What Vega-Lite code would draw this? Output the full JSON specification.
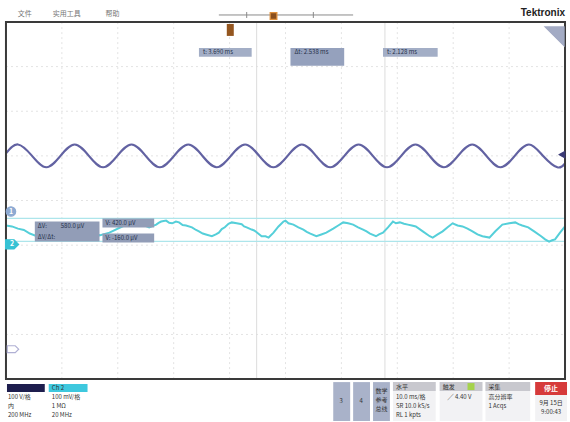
{
"$schema": "https://vega.github.io/schema/vega-lite/v6.json",
"width": 570, "height": 422,
"autosize": {"type": "fit", "contains": "padding"},
"padding": 0,
"background": "#ffffff",
"config": {"view": {"stroke": null}, "text": {"font": "Noto Sans CJK SC"}},
"resolve": {"scale": {"fill": "independent", "stroke": "independent", "shape": "independent", "size": "independent", "color": "independent"}},
"datasets": {
"rules": [
{"x":1,"x2":1,"y":-4,"y2":4,"k":"grid"},{"x":2,"x2":2,"y":-4,"y2":4,"k":"grid"},{"x":3,"x2":3,"y":-4,"y2":4,"k":"grid"},{"x":4,"x2":4,"y":-4,"y2":4,"k":"grid"},{"x":5,"x2":5,"y":-4,"y2":4,"k":"grid"},{"x":6,"x2":6,"y":-4,"y2":4,"k":"grid"},{"x":7,"x2":7,"y":-4,"y2":4,"k":"grid"},{"x":8,"x2":8,"y":-4,"y2":4,"k":"grid"},{"x":9,"x2":9,"y":-4,"y2":4,"k":"grid"},
{"x":0,"x2":10,"y":-3,"y2":-3,"k":"grid"},{"x":0,"x2":10,"y":-2,"y2":-2,"k":"grid"},{"x":0,"x2":10,"y":-1,"y2":-1,"k":"grid"},{"x":0,"x2":10,"y":0,"y2":0,"k":"grid"},{"x":0,"x2":10,"y":1,"y2":1,"k":"grid"},{"x":0,"x2":10,"y":2,"y2":2,"k":"grid"},{"x":0,"x2":10,"y":3,"y2":3,"k":"grid"},
{"x":4.484,"x2":4.484,"y":-4,"y2":4,"k":"cur"},{"x":6.779,"x2":6.779,"y":-4,"y2":4,"k":"cur"},
{"x":0,"x2":10,"y":-0.402,"y2":-0.402,"k":"cyan"},{"x":0,"x2":10,"y":-0.916,"y2":-0.916,"k":"cyan"},
{"x":3.808,"x2":6.21,"y":4.156,"y2":4.156,"k":"tl"},{"x":4.306,"x2":4.306,"y":4.089,"y2":4.223,"k":"tl"},{"x":5.498,"x2":5.498,"y":4.089,"y2":4.223,"k":"tl"}
],
"ch1": [
{"x":0,"y":1.06},{"x":0.214,"y":1.255},{"x":0.467,"y":1.0},{"x":0.721,"y":0.745},{"x":0.975,"y":1.0},{"x":1.229,"y":1.255},{"x":1.483,"y":1.0},{"x":1.737,"y":0.745},{"x":1.991,"y":1.0},{"x":2.245,"y":1.255},{"x":2.499,"y":1.0},{"x":2.753,"y":0.745},{"x":3.007,"y":1.0},{"x":3.261,"y":1.255},{"x":3.515,"y":1.0},{"x":3.768,"y":0.745},{"x":4.023,"y":1.0},{"x":4.277,"y":1.255},{"x":4.53,"y":1.0},{"x":4.784,"y":0.745},{"x":5.038,"y":1.0},{"x":5.292,"y":1.255},{"x":5.546,"y":1.0},{"x":5.8,"y":0.745},{"x":6.054,"y":1.0},{"x":6.308,"y":1.255},{"x":6.562,"y":1.0},{"x":6.816,"y":0.745},{"x":7.07,"y":1.0},{"x":7.324,"y":1.255},{"x":7.578,"y":1.0},{"x":7.831,"y":0.745},{"x":8.086,"y":1.0},{"x":8.34,"y":1.255},{"x":8.593,"y":1.0},{"x":8.847,"y":0.745},{"x":9.101,"y":1.0},{"x":9.355,"y":1.255},{"x":9.609,"y":1.0},{"x":9.863,"y":0.745},{"x":10.0,"y":0.83}
],
"ch2": [
{"x":0,"y":-0.56},{"x":0.107,"y":-0.58},{"x":0.214,"y":-0.63},{"x":0.32,"y":-0.66},{"x":0.427,"y":-0.74},{"x":0.516,"y":-0.78},{"x":0.694,"y":-0.72},{"x":0.961,"y":-0.56},{"x":1.228,"y":-0.51},{"x":1.495,"y":-0.63},{"x":1.673,"y":-0.78},{"x":1.851,"y":-0.72},{"x":2.117,"y":-0.56},{"x":2.384,"y":-0.51},{"x":2.562,"y":-0.6},{"x":2.687,"y":-0.54},{"x":2.73,"y":-0.5},{"x":2.776,"y":-0.47},{"x":2.865,"y":-0.45},{"x":2.92,"y":-0.5},{"x":2.972,"y":-0.51},{"x":3.04,"y":-0.47},{"x":3.096,"y":-0.49},{"x":3.16,"y":-0.55},{"x":3.221,"y":-0.56},{"x":3.327,"y":-0.6},{"x":3.4,"y":-0.66},{"x":3.452,"y":-0.69},{"x":3.52,"y":-0.74},{"x":3.577,"y":-0.76},{"x":3.683,"y":-0.8},{"x":3.754,"y":-0.76},{"x":3.808,"y":-0.72},{"x":3.86,"y":-0.64},{"x":3.915,"y":-0.6},{"x":3.98,"y":-0.52},{"x":4.039,"y":-0.49},{"x":4.128,"y":-0.51},{"x":4.217,"y":-0.53},{"x":4.26,"y":-0.58},{"x":4.306,"y":-0.6},{"x":4.395,"y":-0.65},{"x":4.44,"y":-0.67},{"x":4.484,"y":-0.71},{"x":4.573,"y":-0.8},{"x":4.644,"y":-0.8},{"x":4.698,"y":-0.83},{"x":4.786,"y":-0.72},{"x":4.875,"y":-0.58},{"x":4.964,"y":-0.47},{"x":5.0,"y":-0.45},{"x":5.053,"y":-0.51},{"x":5.142,"y":-0.54},{"x":5.231,"y":-0.6},{"x":5.32,"y":-0.65},{"x":5.38,"y":-0.7},{"x":5.445,"y":-0.74},{"x":5.552,"y":-0.8},{"x":5.641,"y":-0.76},{"x":5.73,"y":-0.72},{"x":5.854,"y":-0.63},{"x":5.943,"y":-0.56},{"x":6.032,"y":-0.49},{"x":6.121,"y":-0.51},{"x":6.21,"y":-0.54},{"x":6.299,"y":-0.6},{"x":6.388,"y":-0.65},{"x":6.45,"y":-0.69},{"x":6.512,"y":-0.74},{"x":6.619,"y":-0.8},{"x":6.673,"y":-0.76},{"x":6.744,"y":-0.72},{"x":6.833,"y":-0.6},{"x":6.922,"y":-0.47},{"x":6.975,"y":-0.51},{"x":7.046,"y":-0.49},{"x":7.12,"y":-0.52},{"x":7.189,"y":-0.54},{"x":7.26,"y":-0.56},{"x":7.331,"y":-0.58},{"x":7.456,"y":-0.69},{"x":7.58,"y":-0.8},{"x":7.634,"y":-0.83},{"x":7.722,"y":-0.76},{"x":7.811,"y":-0.69},{"x":7.9,"y":-0.6},{"x":7.989,"y":-0.51},{"x":8.078,"y":-0.56},{"x":8.167,"y":-0.58},{"x":8.256,"y":-0.63},{"x":8.345,"y":-0.69},{"x":8.434,"y":-0.76},{"x":8.523,"y":-0.8},{"x":8.648,"y":-0.83},{"x":8.754,"y":-0.69},{"x":8.879,"y":-0.54},{"x":9.004,"y":-0.51},{"x":9.11,"y":-0.49},{"x":9.17,"y":-0.53},{"x":9.235,"y":-0.56},{"x":9.342,"y":-0.6},{"x":9.448,"y":-0.69},{"x":9.573,"y":-0.8},{"x":9.644,"y":-0.87},{"x":9.715,"y":-0.92},{"x":9.769,"y":-0.89},{"x":9.822,"y":-0.87},{"x":9.911,"y":-0.72},{"x":10.0,"y":-0.58}
],
"rects": [
{"x":3.452,"x2":4.395,"y":3.419,"y2":3.218,"kind":"cur"},
{"x":5.089,"x2":6.05,"y":3.419,"y2":3.017,"kind":"cur2"},
{"x":6.744,"x2":7.722,"y":3.419,"y2":3.218,"kind":"cur"},
{"x":0.516,"x2":1.673,"y":-0.469,"y2":-0.916,"kind":"read"},
{"x":1.726,"x2":2.651,"y":-0.402,"y2":-0.603,"kind":"read"},
{"x":1.726,"x2":2.651,"y":-0.737,"y2":-0.939,"kind":"read"},
{"x":3.95,"x2":4.075,"y":3.955,"y2":3.687,"kind":"trig"},
{"x":0.018,"x2":0.694,"y":-4.112,"y2":-4.291,"kind":"ch1"},
{"x":0.765,"x2":1.459,"y":-4.112,"y2":-4.291,"kind":"ch2"},
{"x":5.854,"x2":6.157,"y":-4.067,"y2":-4.939,"kind":"panel"},
{"x":6.21,"x2":6.512,"y":-4.067,"y2":-4.939,"kind":"panel"},
{"x":6.566,"x2":6.868,"y":-4.067,"y2":-4.939,"kind":"panel"},
{"x":6.922,"x2":7.687,"y":-4.067,"y2":-4.939,"kind":"body"},
{"x":6.922,"x2":7.687,"y":-4.067,"y2":-4.268,"kind":"head"},
{"x":7.758,"x2":8.523,"y":-4.067,"y2":-4.939,"kind":"body"},
{"x":7.758,"x2":8.523,"y":-4.067,"y2":-4.268,"kind":"head"},
{"x":8.256,"x2":8.381,"y":-4.089,"y2":-4.246,"kind":"green"},
{"x":8.577,"x2":9.377,"y":-4.067,"y2":-4.939,"kind":"body"},
{"x":8.577,"x2":9.377,"y":-4.067,"y2":-4.268,"kind":"head"},
{"x":9.466,"x2":10.036,"y":-4.067,"y2":-4.939,"kind":"body"},
{"x":9.466,"x2":10.036,"y":-4.067,"y2":-4.358,"kind":"stop"}
],
"screen": [{"x":0,"x2":10,"y":-4,"y2":4}],
"points": [
{"x":0.089,"y":-0.246,"kind":"ch1"},
{"x":0.11,"y":-0.983,"kind":"ch2"},
{"x":9.947,"y":1.028,"kind":"lvl"},
{"x":0.125,"y":-3.33,"kind":"ref"},
{"x":4.786,"y":4.134,"kind":"tbadge"},
{"x":9.813,"y":3.676,"kind":"corner"}
],
"texts": [
{"x":0.338,"y":4.179,"t":"文件","g":"menu"},
{"x":1.085,"y":4.179,"t":"实用工具","g":"menu"},
{"x":1.904,"y":4.179,"t":"帮助","g":"menu"},
{"x":10.0,"y":4.201,"t":"Tektronix","g":"brand"},
{"x":3.523,"y":3.318,"t":"t: 3.690 ms","g":"lab"},
{"x":5.16,"y":3.318,"t":"Δt: 2.538 ms","g":"lab"},
{"x":6.815,"y":3.318,"t":"t: 2.128 ms","g":"lab"},
{"x":0.569,"y":-0.58,"t":"ΔV:","g":"lab"},
{"x":0.98,"y":-0.58,"t":"580.0 μV","g":"lab"},
{"x":0.569,"y":-0.82,"t":"ΔV/Δt:","g":"lab"},
{"x":1.779,"y":-0.503,"t":"V: 420.0 μV","g":"lab"},
{"x":1.779,"y":-0.838,"t":"V: -160.0 μV","g":"lab"},
{"x":0.089,"y":-0.246,"t":"1","g":"badge"},
{"x":0.11,"y":-0.983,"t":"2","g":"badge"},
{"x":9.751,"y":-4.212,"t":"停止","g":"badge"},
{"x":0.036,"y":-4.402,"t":"100 V/格","g":"bl"},
{"x":0.036,"y":-4.603,"t":"内","g":"bl"},
{"x":0.036,"y":-4.804,"t":"200 MHz","g":"bl"},
{"x":0.82,"y":-4.201,"t":"Ch 2","g":"bl"},
{"x":0.82,"y":-4.402,"t":"100 mV/格","g":"bl"},
{"x":0.82,"y":-4.603,"t":"1 MΩ","g":"bl"},
{"x":0.82,"y":-4.804,"t":"20 MHz","g":"bl"},
{"x":6.975,"y":-4.179,"t":"水平","g":"bl"},
{"x":6.975,"y":-4.402,"t":"10.0 ms/格","g":"bl"},
{"x":6.975,"y":-4.603,"t":"SR 10.0 kS/s","g":"bl"},
{"x":6.975,"y":-4.804,"t":"RL 1 kpts","g":"bl"},
{"x":7.811,"y":-4.179,"t":"触发","g":"bl"},
{"x":7.9,"y":-4.412,"t":"╱    4.40 V","g":"bl"},
{"x":8.63,"y":-4.179,"t":"采集","g":"bl"},
{"x":8.63,"y":-4.402,"t":"高分辨率","g":"bl"},
{"x":8.63,"y":-4.603,"t":"1 Acqs","g":"bl"},
{"x":5.996,"y":-4.491,"t":"3","g":"bc"},
{"x":6.352,"y":-4.491,"t":"4","g":"bc"},
{"x":6.717,"y":-4.268,"t":"数学","g":"bc"},
{"x":6.717,"y":-4.469,"t":"参考","g":"bc"},
{"x":6.717,"y":-4.67,"t":"总线","g":"bc"},
{"x":9.751,"y":-4.536,"t":"9月 15日","g":"bc"},
{"x":9.751,"y":-4.737,"t":"9:00:43","g":"bc"}
]
},
"layer": [
{"data":{"name":"rules"},"transform":[{"filter":{"field":"k","equal":"grid"}}],
 "mark":{"type":"rule","color":"#e3e3e3","strokeWidth":1,"strokeDash":[2,3]},
 "encoding":{"x":{"field":"x","type":"quantitative","scale":{"domain":[-0.1068,10.0356],"nice":false,"zero":false},"axis":null},"x2":{"field":"x2"},
  "y":{"field":"y","type":"quantitative","scale":{"domain":[-4.9385,4.4916],"nice":false,"zero":false},"axis":null},"y2":{"field":"y2"}}},
{"data":{"name":"rules"},"transform":[{"filter":{"field":"k","equal":"cur"}}],
 "mark":{"type":"rule","color":"#dcdcdc","strokeWidth":1},
 "encoding":{"x":{"field":"x","type":"quantitative","axis":null},"x2":{"field":"x2"},"y":{"field":"y","type":"quantitative","axis":null},"y2":{"field":"y2"}}},
{"data":{"name":"rules"},"transform":[{"filter":{"field":"k","equal":"cyan"}}],
 "mark":{"type":"rule","color":"#ade5eb","strokeWidth":1.2},
 "encoding":{"x":{"field":"x","type":"quantitative","axis":null},"x2":{"field":"x2"},"y":{"field":"y","type":"quantitative","axis":null},"y2":{"field":"y2"}}},
{"data":{"name":"rules"},"transform":[{"filter":{"field":"k","equal":"tl"}}],
 "mark":{"type":"rule","color":"#8a8a8a","strokeWidth":1},
 "encoding":{"x":{"field":"x","type":"quantitative","axis":null},"x2":{"field":"x2"},"y":{"field":"y","type":"quantitative","axis":null},"y2":{"field":"y2"}}},
{"data":{"name":"ch1"},
 "mark":{"type":"line","color":"#6262a2","strokeWidth":2.2,"interpolate":"natural"},
 "encoding":{"x":{"field":"x","type":"quantitative","axis":null},"y":{"field":"y","type":"quantitative","axis":null},"order":{"field":"x"}}},
{"data":{"name":"ch2"},
 "mark":{"type":"line","color":"#55cfd9","strokeWidth":2},
 "encoding":{"x":{"field":"x","type":"quantitative","axis":null},"y":{"field":"y","type":"quantitative","axis":null},"order":{"field":"x"}}},
{"data":{"name":"rects"},
 "mark":{"type":"rect"},
 "encoding":{"x":{"field":"x","type":"quantitative","axis":null},"x2":{"field":"x2"},"y":{"field":"y","type":"quantitative","axis":null},"y2":{"field":"y2"},
  "color":{"field":"kind","type":"nominal","legend":null,"scale":{"domain":["cur","cur2","read","trig","ch1","ch2","panel","body","head","green","stop"],"range":["#a3aec6","#95a1bd","#929db7","#94561f","#1e1e4e","#3ec8de","#a9b2c9","#f2f2f4","#c8c8ce","#a5d24c","#d63a3a"]}}}},
{"data":{"name":"screen"},
 "mark":{"type":"rect","filled":false,"stroke":"#3a3a3a","strokeWidth":2},
 "encoding":{"x":{"field":"x","type":"quantitative","axis":null},"x2":{"field":"x2"},"y":{"field":"y","type":"quantitative","axis":null},"y2":{"field":"y2"}}},
{"data":{"name":"points"},
 "mark":{"type":"point","filled":true,"strokeWidth":1.2,"opacity":1},
 "encoding":{"x":{"field":"x","type":"quantitative","axis":null},"y":{"field":"y","type":"quantitative","axis":null},
  "shape":{"field":"kind","type":"nominal","legend":null,"scale":{"domain":["ch1","ch2","lvl","ref","tbadge","corner"],"range":["circle","M -1 -0.7 L 0.3 -0.7 L 1 0 L 0.3 0.7 L -1 0.7 Z","triangle-left","M -1 -0.6 L 0.4 -0.6 L 1 0 L 0.4 0.6 L -1 0.6 Z","square","M -1 -1 L 1 -1 L 1 1 Z"]}},
  "fill":{"field":"kind","type":"nominal","legend":null,"scale":{"domain":["ch1","ch2","lvl","ref","tbadge","corner"],"range":["#8eaad2","#36c2d4","#3c3c78","#ffffff","#8a4e1c","#a3abc4"]}},
  "stroke":{"field":"kind","type":"nominal","legend":null,"scale":{"domain":["ch1","ch2","lvl","ref","tbadge","corner"],"range":["#8eaad2","#36c2d4","#3c3c78","#b0b0d4","#e0903a","#a3abc4"]}},
  "size":{"field":"kind","type":"nominal","legend":null,"scale":{"type":"ordinal","domain":["ch1","ch2","lvl","ref","tbadge","corner"],"range":[90,170,40,130,45,361]}}}},
{"data":{"name":"texts"},"transform":[{"filter":{"field":"g","equal":"menu"}}],
 "mark":{"type":"text","fontSize":7,"color":"#777777","align":"center","baseline":"middle"},
 "encoding":{"x":{"field":"x","type":"quantitative","axis":null},"y":{"field":"y","type":"quantitative","axis":null},"text":{"field":"t"}}},
{"data":{"name":"texts"},"transform":[{"filter":{"field":"g","equal":"brand"}}],
 "mark":{"type":"text","fontSize":10,"font":"Liberation Sans","fontWeight":"bold","color":"#222222","align":"right","baseline":"middle"},
 "encoding":{"x":{"field":"x","type":"quantitative","axis":null},"y":{"field":"y","type":"quantitative","axis":null},"text":{"field":"t"}}},
{"data":{"name":"texts"},"transform":[{"filter":{"field":"g","equal":"lab"}}],
 "mark":{"type":"text","fontSize":6,"color":"#26304a","align":"left","baseline":"middle"},
 "encoding":{"x":{"field":"x","type":"quantitative","axis":null},"y":{"field":"y","type":"quantitative","axis":null},"text":{"field":"t"}}},
{"data":{"name":"texts"},"transform":[{"filter":{"field":"g","equal":"badge"}}],
 "mark":{"type":"text","fontSize":7,"fontWeight":"bold","color":"#ffffff","align":"center","baseline":"middle"},
 "encoding":{"x":{"field":"x","type":"quantitative","axis":null},"y":{"field":"y","type":"quantitative","axis":null},"text":{"field":"t"}}},
{"data":{"name":"texts"},"transform":[{"filter":{"field":"g","equal":"bl"}}],
 "mark":{"type":"text","fontSize":6,"color":"#333333","align":"left","baseline":"middle"},
 "encoding":{"x":{"field":"x","type":"quantitative","axis":null},"y":{"field":"y","type":"quantitative","axis":null},"text":{"field":"t"}}},
{"data":{"name":"texts"},"transform":[{"filter":{"field":"g","equal":"bc"}}],
 "mark":{"type":"text","fontSize":6,"color":"#333333","align":"center","baseline":"middle"},
 "encoding":{"x":{"field":"x","type":"quantitative","axis":null},"y":{"field":"y","type":"quantitative","axis":null},"text":{"field":"t"}}}
]
}
